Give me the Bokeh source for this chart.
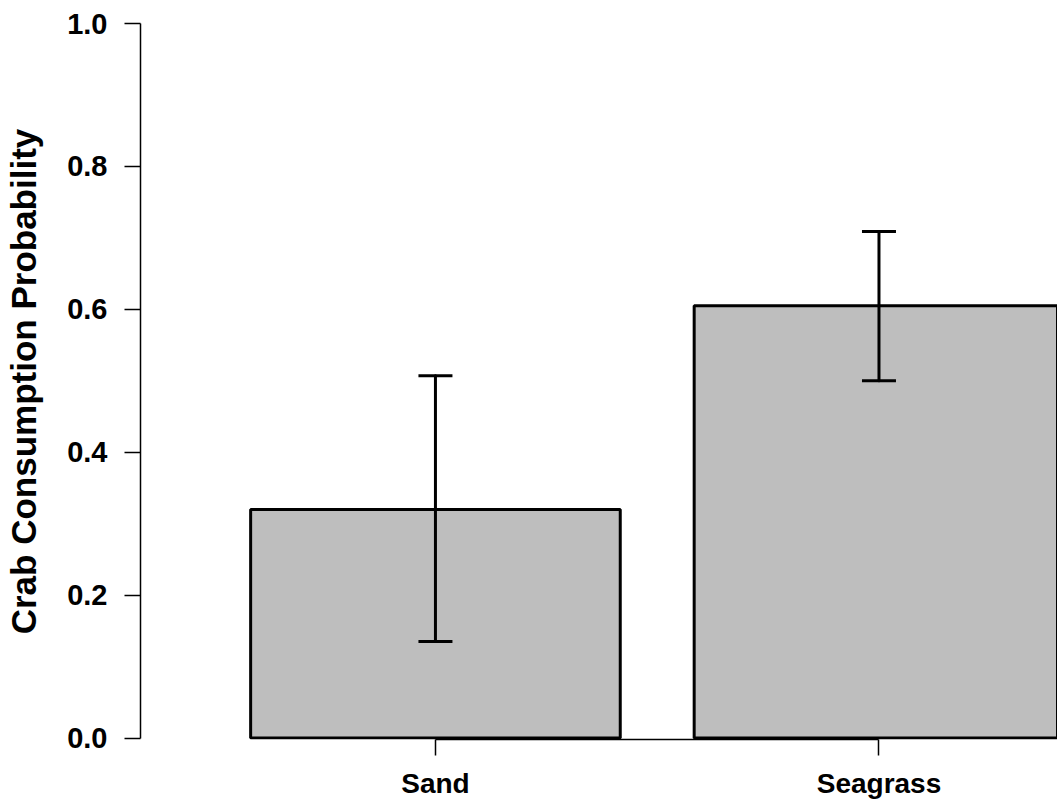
from bokeh.plotting import figure
from bokeh.models import Range1d, FixedTicker, NumeralTickFormatter, Whisker, TeeHead, ColumnDataSource
from bokeh.embed import file_html
from bokeh.resources import INLINE

# ---- data ----
categories = ["Sand", "Seagrass"]
probability = [0.320, 0.605]
ci_lower = [0.135, 0.500]
ci_upper = [0.507, 0.709]
y_ticks = [0.0, 0.2, 0.4, 0.6, 0.8, 1.0]

# R barplot style positions (width 1, space 0.2)
positions = [round(0.7 + 1.2 * i, 2) for i in range(len(categories))]

src = ColumnDataSource(dict(x=positions, top=probability, lower=ci_lower, upper=ci_upper))

p = figure(width=1057, height=805, output_backend="svg", toolbar_location=None,
           x_range=Range1d(-0.098, 2.383), y_range=Range1d(-0.002, 1.0),
           min_border_left=140, min_border_right=0, min_border_top=23, min_border_bottom=66)

p.outline_line_color = None
p.xgrid.visible = False
p.ygrid.visible = False
p.background_fill_color = "white"
p.border_fill_color = "white"

p.vbar(x="x", top="top", bottom=0, width=1.0, source=src,
       fill_color="#BEBEBE", line_color="black", line_width=3)

w = Whisker(base="x", lower="lower", upper="upper", source=src,
            line_color="black", line_width=3, line_cap="round", level="overlay",
            upper_head=TeeHead(size=34, line_color="black", line_width=3),
            lower_head=TeeHead(size=34, line_color="black", line_width=3))
p.add_layout(w)

font = "Liberation Sans"

# y axis
ya = p.yaxis[0]
ya.ticker = FixedTicker(ticks=y_ticks)
ya.formatter = NumeralTickFormatter(format="0.0")
ya.bounds = (0, 1)
ya.axis_label = "Crab Consumption Probability"
ya.axis_label_text_font = font
ya.axis_label_text_font_style = "bold"
ya.axis_label_text_font_size = "35px"
ya.axis_label_text_color = "black"
ya.axis_label_standoff = 21
ya.major_label_text_font = font
ya.major_label_text_font_style = "bold"
ya.major_label_text_font_size = "29px"
ya.major_label_text_color = "black"
ya.major_label_standoff = 17
ya.major_tick_in = 0
ya.major_tick_out = 16
ya.minor_tick_line_color = None
ya.axis_line_width = 1.5
ya.major_tick_line_width = 1.5
ya.axis_line_color = "black"
ya.major_tick_line_color = "black"

# x axis
xa = p.xaxis[0]
xa.ticker = FixedTicker(ticks=positions)
xa.major_label_overrides = {pos: name for pos, name in zip(positions, categories)}
xa.bounds = (positions[0], positions[-1])
xa.major_label_text_font = font
xa.major_label_text_font_style = "bold"
xa.major_label_text_font_size = "28px"
xa.major_label_text_color = "black"
xa.major_label_standoff = 12
xa.major_tick_in = 0
xa.major_tick_out = 16
xa.minor_tick_line_color = None
xa.axis_line_width = 1.5
xa.major_tick_line_width = 1.5
xa.axis_line_color = "black"
xa.major_tick_line_color = "black"

open("out.html", "w").write(file_html(p, INLINE))
